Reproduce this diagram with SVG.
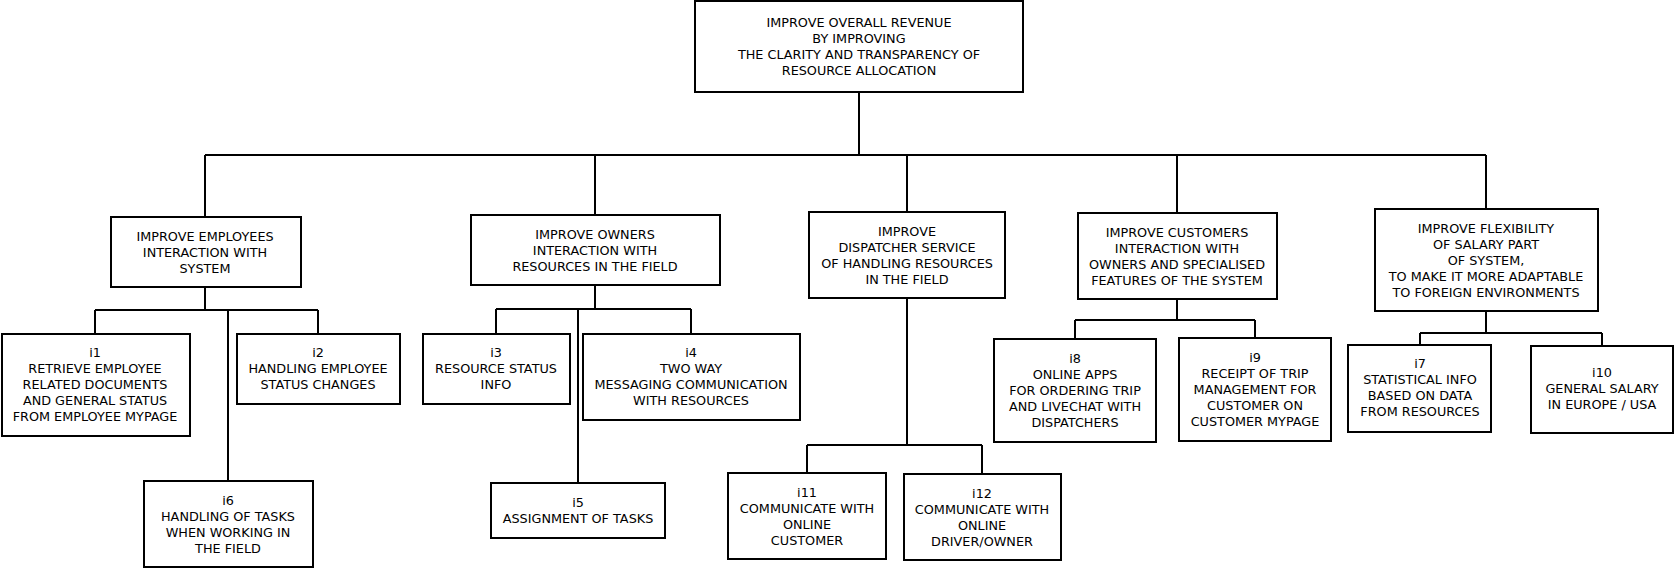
<svg xmlns="http://www.w3.org/2000/svg" width="1674" height="568" viewBox="0 0 1674 568">
<style>
rect{fill:#fff;stroke:#000;stroke-width:2}
.c path{fill:none;stroke:#000;stroke-width:2}
text{font-family:"DejaVu Sans",sans-serif;font-size:12.8px;fill:#000;text-anchor:middle}
</style>
<rect x="0" y="0" width="1674" height="568" style="stroke:none"/>
<g class="c" id="connectors">
<path d="M859 92V155M205 155H1486M205 155V217M595 155V215M907 155V212M1177 155V213M1486 155V209"/>
<path d="M205 287V310M95 310H318M95 310V334M318 310V334M228 310V481"/>
<path d="M595 285V309M496 309H691M496 309V334M691 309V334M578 309V483"/>
<path d="M907 298V445M807 445H982M807 445V473M982 445V474"/>
<path d="M1177 299V320M1075 320H1255M1075 320V339M1255 320V338"/>
<path d="M1486 311V333M1420 333H1602M1420 333V345M1602 333V346"/>
</g>
<g id="root"><rect x="695" y="1" width="328" height="91"/>
<text x="859" y="26.5">IMPROVE OVERALL REVENUE</text><text x="859" y="42.5">BY IMPROVING</text><text x="859" y="58.5">THE CLARITY AND TRANSPARENCY OF</text><text x="859" y="74.5">RESOURCE ALLOCATION</text></g>
<g id="employees"><rect x="111" y="217" width="190" height="70"/>
<text x="205" y="240.5">IMPROVE EMPLOYEES</text><text x="205" y="256.5">INTERACTION WITH</text><text x="205" y="272.5">SYSTEM</text></g>
<g id="owners"><rect x="471" y="215" width="249" height="70"/>
<text x="595" y="238.5">IMPROVE OWNERS</text><text x="595" y="254.5">INTERACTION WITH</text><text x="595" y="270.5">RESOURCES IN THE FIELD</text></g>
<g id="dispatcher"><rect x="809" y="212" width="196" height="86"/>
<text x="907" y="235.5">IMPROVE</text><text x="907" y="251.5">DISPATCHER SERVICE</text><text x="907" y="267.5">OF HANDLING RESOURCES</text><text x="907" y="283.5">IN THE FIELD</text></g>
<g id="customers"><rect x="1078" y="213" width="199" height="86"/>
<text x="1177" y="236.5">IMPROVE CUSTOMERS</text><text x="1177" y="252.5">INTERACTION WITH</text><text x="1177" y="268.5">OWNERS AND SPECIALISED</text><text x="1177" y="284.5">FEATURES OF THE SYSTEM</text></g>
<g id="flexibility"><rect x="1375" y="209" width="223" height="102"/>
<text x="1486" y="232.5">IMPROVE FLEXIBILITY</text><text x="1486" y="248.5">OF SALARY PART</text><text x="1486" y="264.5">OF SYSTEM,</text><text x="1486" y="280.5">TO MAKE IT MORE ADAPTABLE</text><text x="1486" y="296.5">TO FOREIGN ENVIRONMENTS</text></g>
<g id="i1"><rect x="2" y="334" width="188" height="102"/>
<text x="95" y="356.5">i1</text><text x="95" y="372.5">RETRIEVE EMPLOYEE</text><text x="95" y="388.5">RELATED DOCUMENTS</text><text x="95" y="404.5">AND GENERAL STATUS</text><text x="95" y="420.5">FROM EMPLOYEE MYPAGE</text></g>
<g id="i2"><rect x="237" y="334" width="163" height="70"/>
<text x="318" y="356.5">i2</text><text x="318" y="372.5">HANDLING EMPLOYEE</text><text x="318" y="388.5">STATUS CHANGES</text></g>
<g id="i6"><rect x="144" y="481" width="169" height="86"/>
<text x="228" y="504.5">i6</text><text x="228" y="520.5">HANDLING OF TASKS</text><text x="228" y="536.5">WHEN WORKING IN</text><text x="228" y="552.5">THE FIELD</text></g>
<g id="i3"><rect x="423" y="334" width="147" height="70"/>
<text x="496" y="356.5">i3</text><text x="496" y="372.5">RESOURCE STATUS</text><text x="496" y="388.5">INFO</text></g>
<g id="i4"><rect x="583" y="334" width="217" height="86"/>
<text x="691" y="356.5">i4</text><text x="691" y="372.5">TWO WAY</text><text x="691" y="388.5">MESSAGING COMMUNICATION</text><text x="691" y="404.5">WITH RESOURCES</text></g>
<g id="i5"><rect x="491" y="483" width="174" height="55"/>
<text x="578" y="506.5">i5</text><text x="578" y="522.5">ASSIGNMENT OF TASKS</text></g>
<g id="i11"><rect x="728" y="473" width="158" height="86"/>
<text x="807" y="496.5">i11</text><text x="807" y="512.5">COMMUNICATE WITH</text><text x="807" y="528.5">ONLINE</text><text x="807" y="544.5">CUSTOMER</text></g>
<g id="i12"><rect x="904" y="474" width="157" height="86"/>
<text x="982" y="497.5">i12</text><text x="982" y="513.5">COMMUNICATE WITH</text><text x="982" y="529.5">ONLINE</text><text x="982" y="545.5">DRIVER/OWNER</text></g>
<g id="i8"><rect x="994" y="339" width="162" height="103"/>
<text x="1075" y="362.5">i8</text><text x="1075" y="378.5">ONLINE APPS</text><text x="1075" y="394.5">FOR ORDERING TRIP</text><text x="1075" y="410.5">AND LIVECHAT WITH</text><text x="1075" y="426.5">DISPATCHERS</text></g>
<g id="i9"><rect x="1179" y="338" width="152" height="103"/>
<text x="1255" y="361.5">i9</text><text x="1255" y="377.5">RECEIPT OF TRIP</text><text x="1255" y="393.5">MANAGEMENT FOR</text><text x="1255" y="409.5">CUSTOMER ON</text><text x="1255" y="425.5">CUSTOMER MYPAGE</text></g>
<g id="i7"><rect x="1348" y="345" width="143" height="87"/>
<text x="1420" y="367.5">i7</text><text x="1420" y="383.5">STATISTICAL INFO</text><text x="1420" y="399.5">BASED ON DATA</text><text x="1420" y="415.5">FROM RESOURCES</text></g>
<g id="i10"><rect x="1531" y="346" width="142" height="87"/>
<text x="1602" y="376.5">i10</text><text x="1602" y="392.5">GENERAL SALARY</text><text x="1602" y="408.5">IN EUROPE / USA</text></g>
</svg>
